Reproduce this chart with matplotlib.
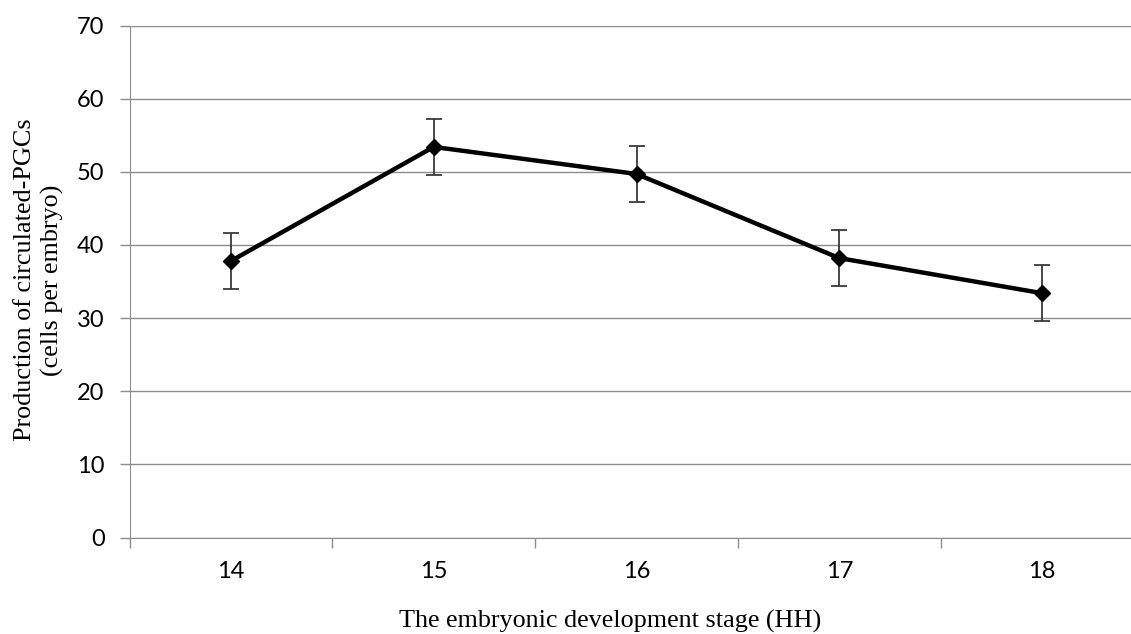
import matplotlib
matplotlib.use("Agg")
import matplotlib.pyplot as plt
from matplotlib.ticker import FixedLocator, NullFormatter

# data
stages = ["14", "15", "16", "17", "18"]
cells = [37.8, 53.4, 49.7, 38.2, 33.4]
cells_err = [3.8, 3.8, 3.85, 3.8, 3.8]

W, H = 1131, 634
fig = plt.figure(figsize=(W / 100, H / 100), dpi=100)

# plot area runs a bit past the right edge like the original
ax = fig.add_axes([129.5 / W, 96.5 / H, 1014 / W, 512 / H])

xs = list(range(len(stages)))
ax.errorbar(xs, cells, yerr=cells_err, fmt="none", ecolor="#3a3a3a",
            elinewidth=1.3, capsize=6, capthick=1.3, zorder=3)
ax.plot(xs, cells, color="black", lw=3.2, marker="D", markersize=8.5,
        markerfacecolor="black", markeredgecolor="black", zorder=4)

ax.set_xlim(-0.5, len(stages) - 0.5)
ax.set_ylim(0, 70)
ax.set_yticks(range(0, 71, 10))

# ticks between categories, labels at categories
ax.xaxis.set_major_locator(FixedLocator([i - 0.5 for i in range(len(stages) + 1)]))
ax.xaxis.set_major_formatter(NullFormatter())
ax.xaxis.set_minor_locator(FixedLocator(xs))
ax.set_xticklabels(stages, minor=True)
ax.tick_params(axis="x", which="major", length=7, color="#8c8c8c", width=1)
ax.tick_params(axis="x", which="minor", length=0, pad=17)
ax.tick_params(axis="y", length=7, color="#8c8c8c", width=1, pad=11)

for lab in ax.get_yticklabels() + ax.get_xticklabels(minor=True):
    lab.set_fontfamily("Lato")
    lab.set_fontsize(17)

ax.grid(axis="y", color="#8c8c8c", lw=1)
ax.set_axisbelow(True)
for s in ["top", "right"]:
    ax.spines[s].set_visible(False)
ax.spines["left"].set_color("#8c8c8c")
ax.spines["bottom"].set_color("#8c8c8c")

fig.text(610 / W, 1 - 621 / H, "The embryonic development stage (HH)",
         ha="center", va="center", fontfamily="Liberation Serif", fontsize=18.8)
fig.text(39 / W, 1 - 280 / H, "Production of circulated-PGCs\n(cells per embryo)",
         ha="center", va="center", rotation=90, linespacing=1.25,
         fontfamily="Liberation Serif", fontsize=18.8)

fig.savefig("out.png", dpi=100)
